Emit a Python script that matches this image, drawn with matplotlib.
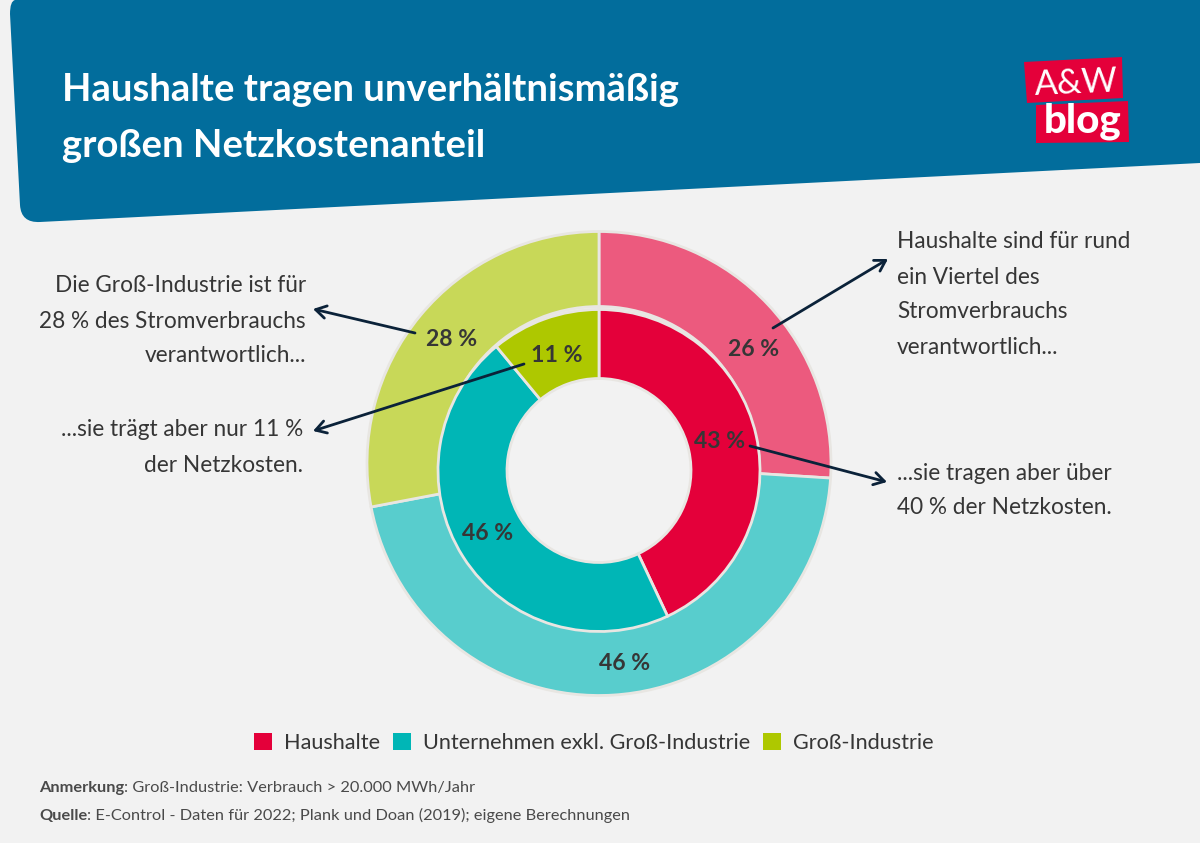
import matplotlib
matplotlib.use("Agg")
import matplotlib.pyplot as plt
from matplotlib.patches import PathPatch, Polygon, Patch
from matplotlib.path import Path

# ---- data ----
categories = ["Haushalte", "Unternehmen exkl. Groß-Industrie", "Groß-Industrie"]
verbrauch = [26, 46, 28]      # outer ring
netzkosten = [43, 46, 11]     # inner ring
colors_inner = ["#E4003A", "#00B6B6", "#AEC800"]
colors_outer = ["#EC5A7E", "#58CDCD", "#C8D858"]

title_lines = ["Haushalte tragen unverhältnismäßig", "großen Netzkostenanteil"]
ring_labels = ["26 %", "46 %", "28 %", "43 %", "46 %", "11 %"]
ring_label_xy = [(754, 349), (625, 663), (452, 340), (720, 442), (488, 534), (557, 356)]
left_notes = [("Die Groß-Industrie ist für", 306, 286), ("28 % des Stromverbrauchs", 306, 321),
              ("verantwortlich...", 306, 356), ("...sie trägt aber nur 11 %", 303, 430),
              ("der Netzkosten.", 303, 465)]
right_notes = [("Haushalte sind für rund", 897, 242), ("ein Viertel des", 897, 277),
               ("Stromverbrauchs", 897, 312), ("verantwortlich...", 897, 347),
               ("...sie tragen aber über", 897, 474), ("40 % der Netzkosten.", 897, 508)]
arrows = [((773, 328), (888, 259)), ((415, 333), (313, 309)),
          ((524, 364), (313, 431)), ((750, 446), (887, 482))]

FONT = "Lato"
BG = "#F2F2F2"
HEADER = "#026D9C"
INK = "#363636"
EDGE = "#E8E6E2"

fig = plt.figure(figsize=(12, 8.43), dpi=100, facecolor=BG)
ax = fig.add_axes([0, 0, 1, 1])

w1, _ = ax.pie(verbrauch, colors=colors_outer, radius=232, center=(599, 463.5), startangle=-90,
               counterclock=True, wedgeprops=dict(width=75, edgecolor=EDGE, linewidth=2))
w2, _ = ax.pie(netzkosten, colors=colors_inner, radius=161, center=(599, 470.5), startangle=-90,
               counterclock=True, wedgeprops=dict(width=69, edgecolor=EDGE, linewidth=2))
ax.set_xlim(0, 1200)
ax.set_ylim(843, 0)
ax.set_aspect("auto")
ax.axis("off")

# header band
verts = [(15, 0), (10, 1), (10, 14), (20, 205), (21, 223), (40, 222), (1200, 163), (1200, 0), (15, 0)]
codes = [Path.MOVETO, Path.CURVE3, Path.CURVE3, Path.LINETO, Path.CURVE3, Path.CURVE3,
         Path.LINETO, Path.LINETO, Path.CLOSEPOLY]
ax.add_patch(PathPatch(Path(verts, codes), facecolor=HEADER, edgecolor="none", zorder=1))

for line, y in zip(title_lines, [90, 146]):
    ax.text(62, y, line, color="white", fontsize=27.5, fontweight="bold", family=FONT,
            va="center", ha="left", zorder=3)

# logo
ax.add_patch(Polygon([(1024, 62), (1122, 57), (1123, 98), (1027, 103)], fc="#E4003A", ec="none", zorder=2))
ax.add_patch(Polygon([(1036, 105), (1128, 101), (1129, 142), (1036, 143)], fc="#E4003A", ec="none", zorder=2))
ax.text(1076, 83, "A&W", color="white", fontsize=24.8, family=FONT, ha="center", va="center",
        rotation=2.5, zorder=3)
ax.text(1083, 121, "blog", color="white", fontsize=29, fontweight="black", family=FONT,
        ha="center", va="center", zorder=3)

# ring labels
for s, (x, y) in zip(ring_labels, ring_label_xy):
    ax.text(x, y, s, color=INK, fontsize=16.6, fontweight="bold", family=FONT,
            ha="center", va="center", zorder=5)

# notes
for s, x, y in left_notes:
    ax.text(x, y, s, color=INK, fontsize=16.3, family=FONT, ha="right", va="center", zorder=5)
for s, x, y in right_notes:
    ax.text(x, y, s, color=INK, fontsize=16.3, family=FONT, ha="left", va="center", zorder=5)

# arrows
for a, b in arrows:
    ax.annotate("", xy=b, xytext=a, zorder=6,
                arrowprops=dict(arrowstyle="->,head_length=0.75,head_width=0.45", color="#0B2239",
                                lw=2, shrinkA=0, shrinkB=0))

# legend
handles = [Patch(facecolor=c, edgecolor="none", label=l) for c, l in zip(colors_inner, categories)]
leg = ax.legend(handles=handles, ncol=3, loc="center", bbox_to_anchor=(593.5 / 1200, 1 - 743 / 843),
                frameon=False, prop={"family": FONT, "size": 15.6}, labelcolor=INK,
                handlelength=0.83, handleheight=0.83, handletextpad=0.55, columnspacing=0.6)

# footer
fig.canvas.draw()
rend = fig.canvas.get_renderer()
for bold, rest, y in [("Anmerkung", ": Groß-Industrie: Verbrauch > 20.000 MWh/Jahr", 792),
                      ("Quelle", ": E-Control - Daten für 2022; Plank und Doan (2019); eigene Berechnungen", 820)]:
    t = ax.text(39, y, bold, color="#4A4A4A", fontsize=11.8, fontweight="bold", family=FONT,
                ha="left", va="baseline", zorder=5)
    x1 = t.get_window_extent(rend).x1
    ax.text(x1, y, rest, color="#4A4A4A", fontsize=11.8, family=FONT, ha="left", va="baseline", zorder=5)

fig.savefig("out.png", dpi=100, facecolor=BG)
